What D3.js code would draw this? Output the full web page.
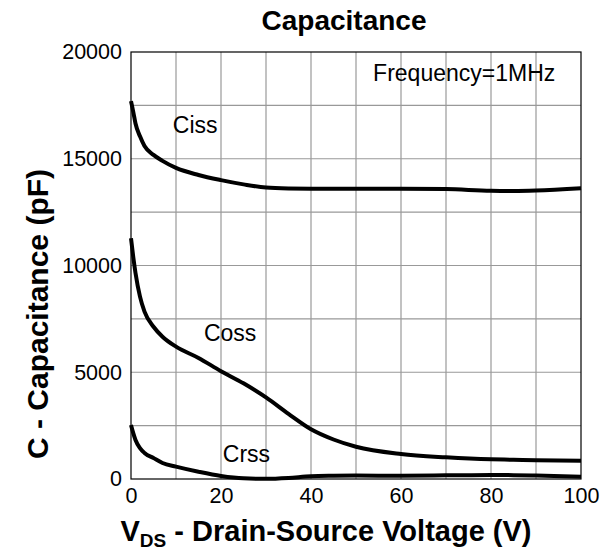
<!DOCTYPE html>
<html>
<head>
<meta charset="utf-8">
<script src="https://cdn.jsdelivr.net/npm/d3@7"></script>
<style>
  body { margin: 0; background: #fff; }
  text { font-family: "Liberation Sans", Arial, sans-serif; fill: #000; }
  .tick-label { font-size: 21.5px; }
  .axis-label { font-size: 29px; font-weight: bold; }
  .title { font-size: 28px; font-weight: bold; }
  .note { font-size: 23px; }
</style>
</head>
<body>
<svg id="chart" width="603" height="554"></svg>
<script>
// data
const vds  = [0, 0.5, 1, 2, 3, 5, 7, 10, 15, 20, 25, 30, 35, 40, 45, 50, 60, 70, 80, 85, 90, 100];
const ciss = [17700, 17200, 16650, 16050, 15600, 15180, 14900, 14570, 14240, 14000, 13800, 13650, 13610, 13600, 13600, 13600, 13600, 13580, 13500, 13490, 13510, 13620];
const coss = [11275, 10400, 9650, 8540, 7840, 7130, 6665, 6200, 5670, 5050, 4480, 3820, 3050, 2330, 1850, 1510, 1170, 1015, 920, 900, 875, 860];
const crss = [2530, 2150, 1830, 1450, 1220, 980, 750, 580, 340, 140, 30, 10, 50, 130, 150, 160, 155, 170, 190, 180, 160, 110];

const xTicks = [0, 20, 40, 60, 80, 100];
const yTicks = [0, 5000, 10000, 15000, 20000];
const seriesNames = ["Ciss", "Coss", "Crss"];

const margin = { top: 52, right: 22, bottom: 75, left: 131 },
      width = 603 - margin.left - margin.right,
      height = 554 - margin.top - margin.bottom;

const svg = d3.select("#chart");
const g = svg.append("g").attr("transform", `translate(${margin.left},${margin.top})`);

const x = d3.scaleLinear().domain([0, 100]).range([0, width]);
const y = d3.scaleLinear().domain([0, 20000]).range([height, 0]);

// grid
g.append("g")
  .selectAll("line")
  .data(d3.range(10, 100, 10))
  .join("line")
  .attr("x1", d => x(d)).attr("x2", d => x(d))
  .attr("y1", 0).attr("y2", height)
  .attr("stroke", "#999").attr("stroke-width", 1.2);

g.append("g")
  .selectAll("line")
  .data(d3.range(2500, 20000, 2500))
  .join("line")
  .attr("x1", 0).attr("x2", width)
  .attr("y1", d => y(d)).attr("y2", d => y(d))
  .attr("stroke", "#999").attr("stroke-width", 1.2);

// frame
g.append("rect")
  .attr("width", width).attr("height", height)
  .attr("fill", "none").attr("stroke", "#000").attr("stroke-width", 1.2);

// axes
const xAxis = g.append("g")
  .attr("transform", `translate(0,${height})`)
  .call(d3.axisBottom(x).tickValues(xTicks).tickSize(0).tickPadding(9));
const yAxis = g.append("g")
  .call(d3.axisLeft(y).tickValues(yTicks).tickFormat(d3.format("d")).tickSize(0).tickPadding(9));
[xAxis, yAxis].forEach(a => {
  a.select(".domain").remove();
  a.selectAll("text").attr("class", "tick-label").attr("fill", "#000");
});

// curves
const line = d3.line()
  .x((d, i) => x(vds[i]))
  .y(d => y(d))
  .curve(d3.curveMonotoneX);

[ciss, coss, crss].forEach(s => {
  g.append("path")
    .datum(s)
    .attr("d", line)
    .attr("fill", "none")
    .attr("stroke", "#000")
    .attr("stroke-width", 4);
});

// curve labels
const labelPos = [[9.3, 16220], [16.2, 6460], [20.4, 780]];
seriesNames.forEach((n, i) => {
  g.append("text")
    .attr("class", "note")
    .attr("x", x(labelPos[i][0]))
    .attr("y", y(labelPos[i][1]))
    .text(n);
});

g.append("text")
  .attr("class", "note")
  .attr("x", x(53.8))
  .attr("y", 29)
  .text("Frequency=1MHz");

// title
svg.append("text")
  .attr("class", "title")
  .attr("text-anchor", "middle")
  .attr("x", 344)
  .attr("y", 30)
  .text("Capacitance");

// x label
const xl = svg.append("text")
  .attr("class", "axis-label")
  .attr("text-anchor", "middle")
  .attr("x", 326)
  .attr("y", 541);
xl.append("tspan").text("V");
xl.append("tspan").attr("font-size", "19px").attr("dy", 6).text("DS");
xl.append("tspan").attr("dy", -6).text(" - Drain-Source Voltage (V)");

// y label
svg.append("text")
  .attr("class", "axis-label")
  .attr("text-anchor", "middle")
  .style("font-size", "30px")
  .attr("transform", "translate(48,314) rotate(-90)")
  .text("C - Capacitance (pF)");
</script>
</body>
</html>
